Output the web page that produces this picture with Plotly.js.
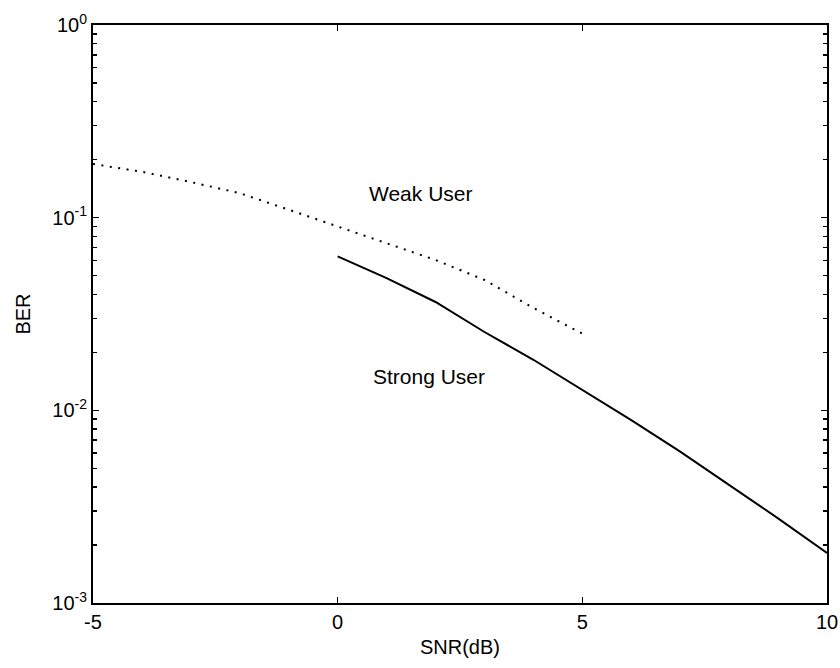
<!DOCTYPE html>
<html>
<head>
<meta charset="utf-8">
<script src="https://cdn.plot.ly/plotly-3.0.1.min.js"></script>
<style>html,body{margin:0;padding:0;background:#fff;}#chart{width:840px;height:668px;}</style>
</head>
<body>
<div id="chart"></div>
<script>
// Data
const snrWeak = [-5, -4, -3, -2, -1, 0, 1, 2, 3, 4, 5];
const berWeak = [0.19, 0.173, 0.153, 0.134, 0.11, 0.09, 0.074, 0.0603, 0.0475, 0.034, 0.025];
const snrStrong = [0, 1, 2, 3, 4, 5, 6, 7, 8, 9, 10];
const berStrong = [0.063, 0.0486, 0.0365, 0.0255, 0.0183, 0.0128, 0.0089, 0.0061, 0.0041, 0.00275, 0.00182];
const xTicks = [-5, 0, 5, 10];
const yTicks = [0.001, 0.01, 0.1, 1];
const yTickText = ['10<sup>-3</sup>', '10<sup>-2</sup>', '10<sup>-1</sup>', '10<sup>0</sup>'];
const labelWeak = 'Weak User';
const labelStrong = 'Strong User';

const minorVals = [];
[0.001, 0.01, 0.1].forEach(d => { for (let k = 2; k <= 9; k++) minorVals.push(d * k); });

const font = {family: 'Liberation Sans, Arial, sans-serif', size: 20, color: '#000'};
const annFont = {family: 'Liberation Sans, Arial, sans-serif', size: 21, color: '#000'};

const traces = [
  {x: snrWeak, y: berWeak, mode: 'lines', line: {color: '#000', width: 2, dash: '2px,6.5px'}, hoverinfo: 'skip'},
  {x: snrStrong, y: berStrong, mode: 'lines', line: {color: '#000', width: 2}, hoverinfo: 'skip'}
];

const layout = {
  width: 840, height: 668,
  margin: {l: 93, r: 13, t: 25, b: 65},
  paper_bgcolor: '#fff', plot_bgcolor: '#fff',
  showlegend: false,
  font: font,
  xaxis: {
    range: [-5, 10], tickvals: xTicks, ticktext: xTicks.map(String),
    ticks: 'inside', ticklen: 6, tickwidth: 1.5, tickcolor: '#000',
    showline: true, linecolor: '#000', linewidth: 2, mirror: 'ticks',
    showgrid: false, zeroline: false, tickfont: font,
    title: {text: 'SNR(dB)', font: font, standoff: 8}
  },
  yaxis: {
    type: 'log', range: [-3, 0], tickvals: yTicks, ticktext: yTickText,
    ticks: 'inside', ticklen: 6, tickwidth: 1.5, tickcolor: '#000',
    showline: true, linecolor: '#000', linewidth: 2, mirror: 'ticks',
    showgrid: false, zeroline: false, tickfont: font,
    minor: {tickvals: minorVals, ticks: 'inside', ticklen: 4, tickcolor: '#000', tickwidth: 1.5, showgrid: false},
    title: {text: 'BER', font: font, standoff: 16}
  },
  annotations: [
    {x: 1.69, y: Math.log10(0.134), xref: 'x', yref: 'y', text: labelWeak, showarrow: false, font: annFont},
    {x: 1.86, y: Math.log10(0.0149), xref: 'x', yref: 'y', text: labelStrong, showarrow: false, font: annFont}
  ]
};

Plotly.newPlot('chart', traces, layout, {staticPlot: true, displayModeBar: false});
</script>
</body>
</html>
